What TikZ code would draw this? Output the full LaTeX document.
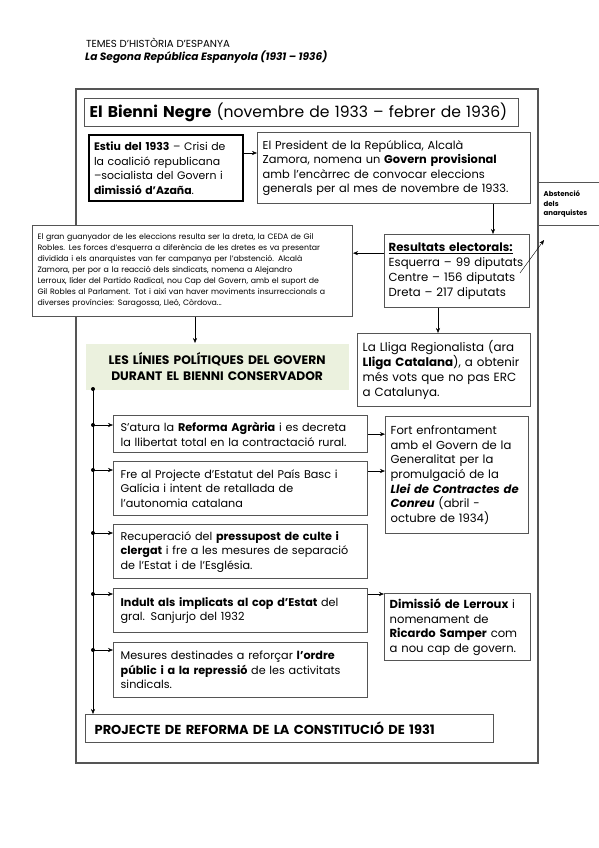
\documentclass[tikz,border=0pt]{standalone}
\usepackage{fontspec}
\setmainfont{Poppins}
\usetikzlibrary{arrows.meta,positioning,calc}
\definecolor{boxgray}{HTML}{555555}
\definecolor{olivelight}{HTML}{EBF1DE}
\tikzset{>={Stealth[length=5pt,width=4pt]},
  blk/.style={draw=boxgray, fill=white, line width=1.3pt, anchor=north west, align=left, inner xsep=5pt, inner ysep=2pt, font=\fontsize{11.6}{14.6}\selectfont},
  branch/.style={blk, inner xsep=7pt, text width=240pt, font=\fontsize{11.2}{14.6}\selectfont}}

\begin{document}
\begin{tikzpicture}[x=1pt, y=-1pt]
  \useasboundingbox (0,0) rectangle (599,848);
  % header
  \node[anchor=base west, inner sep=0pt, font=\fontsize{10.2}{11}\selectfont] (hdr) at (86,48) {TEMES D'HISTÒRIA D'ESPANYA};
  \node[anchor=base west, inner sep=0pt, font=\fontsize{10.6}{11}\selectfont\bfseries\itshape] (sub) at (85,61) {La Segona República Espanyola (1931 – 1936)};
  \draw[line width=1.8pt, boxgray] (76,89) rectangle (538,763);
  % top part
  \node[blk, text width=424pt, minimum height=28pt, font=\fontsize{15.6}{18}\selectfont] (title) at (84,98) {\textbf{El Bienni Negre} (novembre de 1933 – febrer de 1936)};
  \node[blk, draw=black, line width=2pt, text width=144pt, minimum height=66pt, font=\fontsize{10.9}{14.6}\selectfont] (estiu) at (88,134) {\textbf{Estiu del 1933} – Crisi de\\la coalició republicana\\–socialista del Govern i\\\textbf{dimissió d'Azaña}.};
  \node[blk, text width=263pt, minimum height=71pt, font=\fontsize{11.4}{14.6}\selectfont] (pres) at (257,132) {El President de la República, Alcalà\\Zamora, nomena un \textbf{Govern provisional}\\amb l'encàrrec de convocar eleccions\\generals per al mes de novembre de 1933.};
  \node[blk, text width=60pt, minimum height=43pt, font=\fontsize{7}{9.5}\selectfont\bfseries] (absten) at (538,182) {Abstenció\\dels\\anarquistes};
  \node[blk, line width=1pt, text width=310pt, minimum height=91pt, font=\fontsize{7.8}{11}\selectfont] (gran) at (32,225) {El gran guanyador de les eleccions resulta ser la dreta, la CEDA de Gil\\Robles. Les forces d'esquerra a diferència de les dretes es va presentar\\dividida i els anarquistes van fer campanya per l'abstenció. Alcalà\\Zamora, per por a la reacció dels sindicats, nomena a Alejandro\\Lerroux, líder del Partido Radical, nou Cap del Govern, amb el suport de\\Gil Robles al Parlament. Tot i així van haver moviments insurreccionals a\\diverses províncies: Saragossa, Lleó, Còrdova...};
  \node[blk, inner xsep=4pt, text width=137pt, minimum height=73pt, font=\fontsize{11.7}{15}\selectfont] (result) at (384,234) {\underline{\textbf{Resultats electorals:}}\\\mbox{Esquerra – 99 diputats}\\\mbox{Centre – 156 diputats}\\\mbox{Dreta – 217 diputats}};
  \node[blk, draw=none, fill=olivelight, align=center, text width=253pt, minimum height=46pt, font=\fontsize{12.3}{15.5}\selectfont\bfseries] (lines) at (85,343) {LES LÍNIES POLÍTIQUES DEL GOVERN\\DURANT EL BIENNI CONSERVADOR};
  \node[blk, text width=163pt, minimum height=73pt, font=\fontsize{11.9}{15}\selectfont] (lliga) at (357,333) {La Lliga Regionalista (ara\\\textbf{Lliga Catalana}), a obtenir\\més vots que no pas ERC\\a Catalunya.};
  % policies
  \node[branch, minimum height=37pt] (satura) at (113,415) {S'atura la \textbf{Reforma Agrària} i es decreta\\la llibertat total en la contractació rural.};
  \node[branch, minimum height=54pt] (fre) at (113,461) {Fre al Projecte d'Estatut del País Basc i\\Galícia i intent de retallada de\\l'autonomia catalana};
  \node[branch, minimum height=54pt] (recup) at (113,524) {Recuperació del \textbf{pressupost de culte i}\\\textbf{clergat} i fre a les mesures de separació\\de l'Estat i de l'Església.};
  \node[branch, minimum height=44pt] (indult) at (113,588) {\textbf{Indult als implicats al cop d'Estat} del\\gral. Sanjurjo del 1932};
  \node[branch, minimum height=55pt] (mesures) at (113,642) {Mesures destinades a reforçar \textbf{l'ordre}\\\textbf{públic i a la repressió} de les activitats\\sindicals.};
  \node[blk, text width=133pt, minimum height=117pt] (fort) at (385,416) {Fort enfrontament\\amb el Govern de la\\Generalitat per la\\promulgació de la\\\textbf{\textit{Llei de Contractes de}}\\\textbf{\textit{Conreu}} (abril -\\octubre de 1934)};
  \node[blk, text width=136pt, minimum height=67pt] (dimis) at (384,593) {\textbf{Dimissió de Lerroux} i\\nomenament de\\\textbf{Ricardo Samper} com\\a nou cap de govern.};
  \node[blk, inner xsep=9pt, text width=390pt, minimum height=28pt, font=\fontsize{13}{15}\selectfont\bfseries] (proj) at (85,714) {PROJECTE DE REFORMA DE LA CONSTITUCIÓ DE 1931};
  % connectors, top
  \coordinate (e1) at ([yshift=15pt]estiu.east);
  \draw[->] (e1) -- (e1 -| pres.west);
  \coordinate (drop) at (493,0);
  \draw[->] (pres.south -| drop) -- (result.north -| drop);
  \coordinate (r1) at ([yshift=18pt]result.west);
  \draw[->] (r1) -- (r1 -| gran.east);
  \coordinate (r2) at (520,273);
  \coordinate (a1) at (544,240);
  \draw[->] (r2) -- (a1);
  \coordinate (r3) at (438,0);
  \draw[->] (result.south -| r3) -- (lliga.north -| r3);
  \coordinate (g1) at (195,0);
  \draw[->] (gran.south -| g1) -- (lines.north -| g1);
  % spine and branches
  \coordinate (spine) at (93,389);
  \fill (spine) circle (2pt);
  \draw[->] (spine) -- (spine |- proj.north);
  \foreach \n/\d in {satura/10, fre/9, recup/9, indult/6, mesures/8} {
    \coordinate (b\n) at ([yshift=-\d pt]\n.north west);
    \fill (b\n -| spine) circle (2pt);
    \draw[->] (b\n -| spine) -- (b\n);
  }
  \draw[->] (satura.east) -- (satura.east -| fort.west);
  \coordinate (f1) at ([yshift=-10pt]fre.north east);
  \draw[->] (f1) -- (f1 -| fort.west);
  \coordinate (i1) at ([yshift=-6pt]indult.north east);
  \draw[->] (i1) -- (i1 -| dimis.west);
\end{tikzpicture}
\end{document}
